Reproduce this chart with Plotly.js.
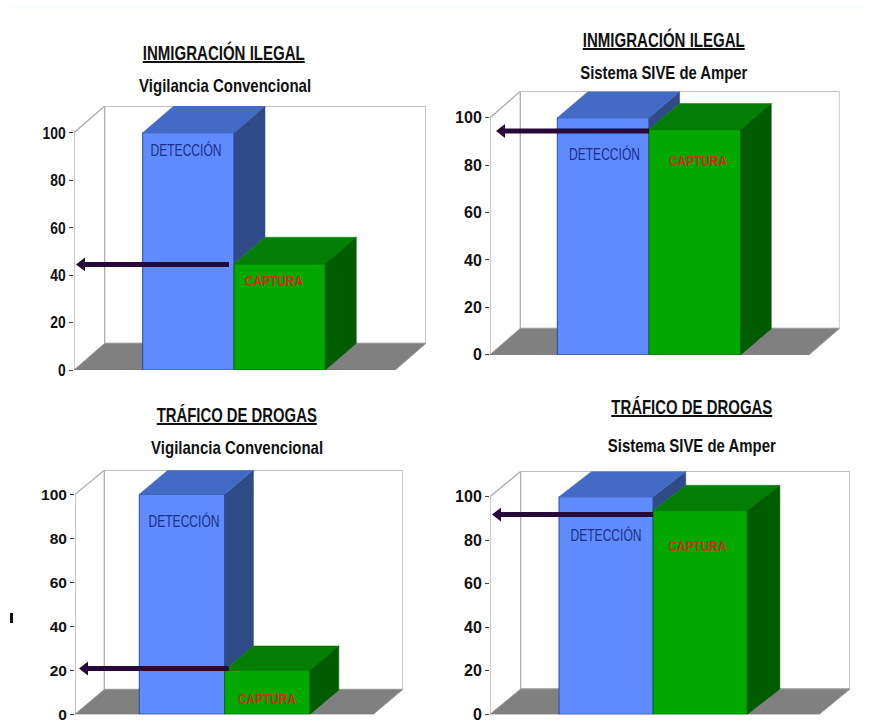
<!DOCTYPE html>
<html><head><meta charset="utf-8">
<script src="https://cdn.plot.ly/plotly-3.0.1.min.js"></script>
<style>html,body{margin:0;padding:0;background:#fff}</style></head>
<body><div id="chart" style="width:872px;height:722px"></div>
<script>
// ---- data ----
const categories = ['DETECCIÓN', 'CAPTURA'];
const titles = ['INMIGRACIÓN ILEGAL', 'INMIGRACIÓN ILEGAL', 'TRÁFICO DE DROGAS', 'TRÁFICO DE DROGAS'];
const subtitles = ['Vigilancia Convencional', 'Sistema SIVE de Amper', 'Vigilancia Convencional', 'Sistema SIVE de Amper'];
const detection = [100, 100, 100, 100];
const capture = [44.7, 95, 20, 93.6];
const arrowLevel = [44.5, 94.4, 20.8, 91.8];
const tickValues = [0, 20, 40, 60, 80, 100];

// ---- layout geometry (pixels) ----
const W = 872, H = 722;
const geom = [
  {L:74,  R:426,   y0:370,   y100:132.7, top:106,   barL:142.7, barM:234,   barR:325.3, wx:30.7, wy:26.7, bx:31,   by:26.7, aL:85,  aR:229,
   det:[186,152], cap:[274,282], t:[224,53],  s:[224.5,86], tick:17},
  {L:490, R:839.5, y0:354.7, y100:117.7, top:91.3,  barL:557.3, barM:649,   barR:740.7, wx:30.3, wy:26.3, bx:30.6, by:26,   aL:505, aR:649,
   det:[604.5,155.7], cap:[698,162], t:[664,39], s:[663.7,72], tick:16},
  {L:75,  R:402.7, y0:714.2, y100:494.3, top:470.3, barL:139.3, barM:224,   barR:310,   wx:29.3, wy:24.7, bx:28.8, by:24.3, aL:88,  aR:228.7,
   det:[184,523], cap:[267,700.7], t:[236.7,415], s:[236.7,447.7], tick:15.5},
  {L:490, R:850,   y0:714.3, y100:496.7, top:471.3, barL:559,   barM:653.3, barR:747.3, wx:30.7, wy:25.3, bx:32.6, by:25.3, aL:501, aR:653,
   det:[606,537], cap:[697.5,547], t:[691.7,407], s:[691.5,445], tick:16}
];
const titleWidth = [162, 162, 160, 161];
const subtitleWidth = [172, 167, 172, 168];

const SANS = '"Liberation Sans",Arial,sans-serif';
const col = {detF:'#5f8bff', detT:'#436ac4', detS:'#2f4b88', capF:'#00a800', capT:'#047f04', capS:'#005c00',
             floor:'#808080', wall:'#adadad', arrow:'#26093a'};

const traces = [], shapes = [], annotations = [];
const layout = {width:W, height:H, margin:{l:0,r:0,t:0,b:0}, paper_bgcolor:'#ffffff', plot_bgcolor:'rgba(0,0,0,0)',
                showlegend:false, hovermode:false, shapes, annotations};

function poly(xa, ya, xs, ys, color) {
  traces.push({type:'scatter', mode:'lines', x:[...xs, xs[0]], y:[...ys, ys[0]], xaxis:xa, yaxis:ya, fill:'toself',
               fillcolor:color, line:{color:color, width:0.5}, hoverinfo:'skip'});
}

// faint pale band along the top of the picture
shapes.push({type:'rect', layer:'below', xref:'paper', yref:'paper', x0:10/W, x1:862/W, y0:1-8/H, y1:1-5/H, fillcolor:'#f6fdff', line:{width:0}});
shapes.push({type:'rect', layer:'below', xref:'paper', yref:'paper', x0:10/W, x1:862/W, y0:1-14/H, y1:1-8/H, fillcolor:'#fffffb', line:{width:0}});

geom.forEach((g, i) => {
  const sfx = i === 0 ? '' : String(i + 1);
  const xa = 'x' + sfx, ya = 'y' + sfx;
  const pxV = (g.y0 - g.y100) / 100;
  const pxX = (g.barR - g.barL) / 2;
  const xOf = p => 0.5 + (p - g.barL) / pxX;
  const yOf = p => (g.y0 - p) / pxV;
  const wdx = g.wx / pxX, wdy = g.wy / pxV, bdx = g.bx / pxX, bdy = g.by / pxV;

  const xMin = xOf(g.L), xMax = xOf(g.R), yMax = yOf(g.top);
  const frontR = xMax - wdx;

  layout['xaxis' + sfx] = {domain:[g.L / W, g.R / W], range:[xMin, xMax], anchor:ya, visible:false, fixedrange:true};
  layout['yaxis' + sfx] = {domain:[1 - g.y0 / H, 1 - g.top / H], range:[0, yMax], anchor:xa, fixedrange:true,
    showgrid:false, zeroline:false, showline:false, tickmode:'array', tickvals:tickValues, ticktext:tickValues.map(String),
    ticks:'outside', ticklen:4, tickwidth:1, tickcolor:'#444', ticklabeloverflow:'allow',
    tickfont:{family:SANS, size:g.tick, color:'#111', weight:700}};

  const path = (pts, close) => 'M' + pts.map(p => p[0] + ',' + p[1]).join('L') + (close ? 'Z' : '');
  const sh = (pts, fill, line, close, w) => shapes.push({type:'path', layer:'below', xref:xa, yref:ya, path:path(pts, close),
    fillcolor:fill, line:{color:line, width:w || 1.3}});
  sh([[xMin + wdx, wdy], [xMin + wdx, yMax], [xMax, yMax], [xMax, wdy]], '#ffffff', col.wall, true);
  sh([[xMin, 0], [xMin + wdx, wdy], [xMax, wdy], [frontR, 0]], col.floor, '#9a9a9a', true, 1);
  sh([[xMin, 0], [xMin, 100], [xMin + wdx, yMax]], 'rgba(0,0,0,0)', col.wall, false);
  sh([[xMin, 0], [frontR, 0]], 'rgba(0,0,0,0)', '#666666', false, 1);
  sh([[frontR, 0], [frontR, -1.4]], 'rgba(0,0,0,0)', '#666666', false, 1);

  const d = detection[i], c = capture[i];
  traces.push({type:'bar', x:[1], y:[d], width:[1], xaxis:xa, yaxis:ya, hoverinfo:'skip',
    marker:{color:col.detF, line:{color:'#2b4a98', width:1}}});
  traces.push({type:'bar', x:[2], y:[c], width:[1], xaxis:xa, yaxis:ya, hoverinfo:'skip',
    marker:{color:col.capF, line:{color:'#067006', width:1}}});
  poly(xa, ya, [1.5, 1.5 + bdx, 1.5 + bdx, 1.5], [Math.min(d, c), Math.min(d, c) + bdy, d + bdy, d], col.detS);
  poly(xa, ya, [0.5, 0.5 + bdx, 1.5 + bdx, 1.5], [d, d + bdy, d + bdy, d], col.detT);
  poly(xa, ya, [1.5, 1.5 + bdx, 2.5 + bdx, 2.5], [c, c + bdy, c + bdy, c], col.capT);
  poly(xa, ya, [2.5, 2.5 + bdx, 2.5 + bdx, 2.5], [0, bdy, c + bdy, c], col.capS);

  traces.push({type:'scatter', mode:'lines', x:[xOf(g.aL), xOf(g.aR)], y:[arrowLevel[i], arrowLevel[i]], xaxis:xa, yaxis:ya,
    line:{color:col.arrow, width:5}, hoverinfo:'skip'});
  traces.push({type:'scatter', mode:'markers', x:[xOf(g.aL - 3)], y:[arrowLevel[i]], xaxis:xa, yaxis:ya,
    marker:{symbol:'triangle-left', size:12, color:col.arrow}, hoverinfo:'skip'});

  traces.push({type:'scatter', mode:'text', x:[xOf(g.det[0])], y:[yOf(g.det[1])], text:[categories[0]], xaxis:xa, yaxis:ya,
    textposition:'middle center', textfont:{family:SANS, size:16, color:'#1c2f86'}, hoverinfo:'skip'});
  traces.push({type:'scatter', mode:'text', x:[xOf(g.cap[0])], y:[yOf(g.cap[1])], text:[categories[1]], xaxis:xa, yaxis:ya,
    textposition:'middle center', textfont:{family:SANS, size:15, color:'#c8301c', weight:700}, hoverinfo:'skip'});

  annotations.push({xref:'paper', yref:'paper', x:g.t[0] / W, y:1 - g.t[1] / H, text:titles[i], showarrow:false,
    xanchor:'center', yanchor:'middle', font:{family:SANS, size:20, color:'#111', weight:700, lineposition:'under'}});
  annotations.push({xref:'paper', yref:'paper', x:g.s[0] / W, y:1 - g.s[1] / H, text:subtitles[i], showarrow:false,
    xanchor:'center', yanchor:'middle', font:{family:SANS, size:19, color:'#111', weight:700}});
});

shapes.push({type:'rect', xref:'paper', yref:'paper', x0:10/W, x1:13/W, y0:1-623/H, y1:1-613/H, fillcolor:'#111', line:{width:0}});

function condense(el, width) {
  el.setAttribute('textLength', width);
  el.setAttribute('lengthAdjust', 'spacingAndGlyphs');
}
Plotly.newPlot('chart', traces, layout, {displayModeBar:false, staticPlot:true}).then(gd => {
  const notes = [...gd.querySelectorAll('.annotation-text')];
  notes.forEach((el, k) => {
    const i = Math.floor(k / 2);
    condense(el, k % 2 === 0 ? titleWidth[i] : subtitleWidth[i]);
  });
  gd.querySelectorAll('.ytick text').forEach(el => condense(el, el.textContent.length * 7.7));
  gd.querySelectorAll('.textpoint text').forEach(el => {
    condense(el, el.textContent === categories[0] ? 71 : 58);
  });
});
</script></body></html>
